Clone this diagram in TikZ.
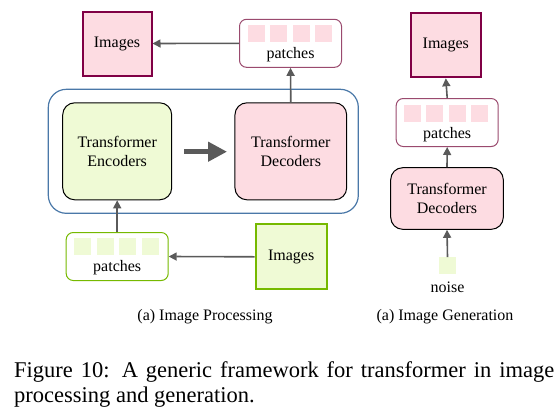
\documentclass[tikz,border=0pt]{standalone}
\usepackage{fontspec}
\setmainfont{Liberation Serif}
\usetikzlibrary{arrows.meta}
\definecolor{pinkfill}{HTML}{FDDCE2}
\definecolor{magborder}{HTML}{800045}
\definecolor{patchmag}{HTML}{9A4A6E}
\definecolor{greenfill}{HTML}{EFFAD5}
\definecolor{greenborder}{HTML}{76B900}
\definecolor{bluebox}{HTML}{4A78A8}
\definecolor{arrowgray}{HTML}{5A5A5A}
\tikzset{
  imgbox/.style={draw=#1, line width=2pt, minimum width=69pt, minimum height=64pt, inner sep=0pt, font=\fontsize{16}{19}\selectfont},
  trbox/.style={draw=black, line width=1pt, rounded corners=12pt, align=center, inner sep=0pt, font=\fontsize{16}{19}\selectfont},
  patchbox/.style={draw=#1, line width=1pt, rounded corners=7pt, minimum width=102pt, minimum height=48pt, inner sep=0pt},
  sq/.style={fill=#1, minimum width=17pt, minimum height=17pt, inner sep=0pt},
  lbl/.style={font=\fontsize{16}{19}\selectfont, inner sep=0pt},
  arr/.style={draw=arrowgray, line width=1.6pt, -{Triangle[length=8pt,width=8pt]}},
}
\begin{document}
\begin{tikzpicture}[x=1pt,y=-1pt]
\useasboundingbox (0,0) rectangle (559,413);
% ---------- (a) Image Processing ----------
\node[draw=bluebox, line width=1.2pt, rounded corners=18pt, minimum width=310pt, minimum height=124pt] (outer) at (203.3,151.3) {};
\node[trbox, fill=greenfill, minimum width=109pt, minimum height=97pt] (enc) at (117.2,151.3) {Transformer\\Encoders};
\node[trbox, fill=pinkfill, minimum width=111.7pt, minimum height=97pt] (dec) at (290.8,151.3) {Transformer\\Decoders};
\coordinate (ta) at (184,151.7);
\coordinate (tb) at (227,151.7);
\draw[draw=arrowgray, line width=4.5pt, -{Triangle[length=19pt,width=19pt]}] (ta) -- (tb);

\node[imgbox=magborder, fill=pinkfill] (img1) at (117,43.5) {Images};
\node[patchbox=patchmag, fill=white] (p1) at (290.5,43.3) {};
\node[sq=pinkfill] (p1a) at (256.5,33) {};
\node[sq=pinkfill] (p1b) at (278.5,33) {};
\node[sq=pinkfill] (p1c) at (301.3,33) {};
\node[sq=pinkfill] (p1d) at (323.8,33) {};
\node[lbl] (p1t) at (290.5,54.5) {patches};
\draw[arr] (p1.west) -- (img1.east);
\draw[arr] (dec.north) -- (p1.south);

\node[patchbox=greenborder, fill=white] (p2) at (117.2,256.5) {};
\node[sq=greenfill] (p2a) at (82.5,246.5) {};
\node[sq=greenfill] (p2b) at (105.7,246.5) {};
\node[sq=greenfill] (p2c) at (127.5,246.5) {};
\node[sq=greenfill] (p2d) at (150.3,246.5) {};
\node[lbl] (p2t) at (117.2,268) {patches};
\node[imgbox=greenborder, fill=greenfill, minimum width=71pt, minimum height=65pt] (img2) at (291.2,256.8) {Images};
\draw[arr] (img2.west) -- (p2.east);
\draw[arr] (p2.north) -- (enc.south);

\node[lbl] (cap1) at (205,316.5) {(a) Image Processing};

% ---------- (a) Image Generation ----------
\node[imgbox=magborder, fill=pinkfill, minimum width=70pt, minimum height=64.6pt] (img3) at (445.8,45) {Images};
\node[patchbox=patchmag, fill=white] (p3) at (447.2,122.5) {};
\node[sq=pinkfill] (p3a) at (412.5,113) {};
\node[sq=pinkfill] (p3b) at (434.8,113) {};
\node[sq=pinkfill] (p3c) at (457.5,113) {};
\node[sq=pinkfill] (p3d) at (479.8,113) {};
\node[lbl] (p3t) at (447.2,135) {patches};
\node[trbox, fill=pinkfill, minimum width=112.6pt, minimum height=61.6pt] (dec2) at (447,198.5) {Transformer\\Decoders};
\node[sq=greenfill] (noise) at (447.5,265.8) {};
\node[lbl] (noiset) at (447.5,287) {noise};
\draw[arr] (noise.north) -- (dec2.south);
\draw[arr] (dec2.north) -- (p3.south);
\draw[arr] (p3.north) -- (img3.south);

\node[lbl] (cap2) at (445,316.5) {(a) Image Generation};

% ---------- Figure caption ----------
\node[anchor=base west, inner sep=0pt, font=\fontsize{22.5}{25}\selectfont] (fig1) at (14,377) {\makebox[540pt][s]{Figure 10: A generic framework for transformer in image}};
\node[anchor=base west, inner sep=0pt, font=\fontsize{22.5}{25}\selectfont] (fig2) at (14,402) {processing and generation.};
\end{tikzpicture}
\end{document}
